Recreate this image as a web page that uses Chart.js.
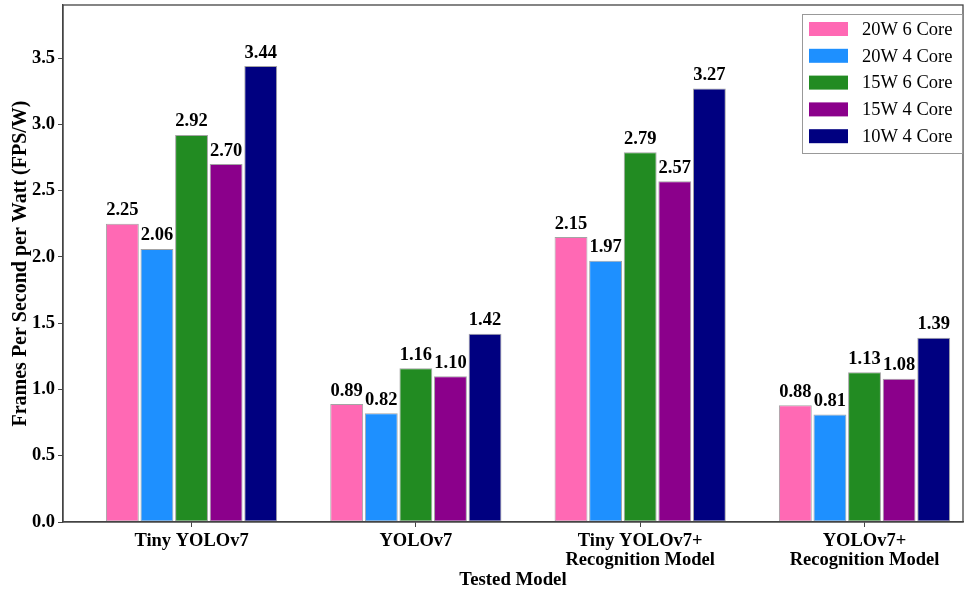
<!DOCTYPE html>
<html lang="en">
<head>
    <meta charset="UTF-8">
    <title>Frames Per Second per Watt</title>
    <script src="https://cdn.jsdelivr.net/npm/chart.js"></script>
    <style>
        body {
            margin: 0;
            padding: 0;
            background: #fff;
        }
        #chart-box {
            width: 965px;
            height: 589px;
        }
    </style>
</head>
<body>
    <div id="chart-box"><canvas id="chart"></canvas></div>

    <script>
        // data
        const models = [
            ["Tiny YOLOv7"],
            ["YOLOv7"],
            ["Tiny YOLOv7+", "Recognition Model"],
            ["YOLOv7+", "Recognition Model"]
        ];
        const seriesNames = ["20W 6 Core", "20W 4 Core", "15W 6 Core", "15W 4 Core", "10W 4 Core"];
        const seriesColors = ["#ff69b4", "#1e90ff", "#228b22", "#8b008b", "#000080"];
        const w20c6 = [2.25, 0.89, 2.15, 0.88];
        const w20c4 = [2.06, 0.82, 1.97, 0.81];
        const w15c6 = [2.92, 1.16, 2.79, 1.13];
        const w15c4 = [2.70, 1.10, 2.57, 1.08];
        const w10c4 = [3.44, 1.42, 3.27, 1.39];
        const yTicks = [0, 0.5, 1.0, 1.5, 2.0, 2.5, 3.0, 3.5];

        const seriesValues = [w20c6, w20c4, w15c6, w15c4, w10c4];
        const serif = "'Liberation Serif', 'Times New Roman', serif";

        const datasets = seriesNames.map((name, i) => ({
            label: name,
            data: seriesValues[i].map((v, j) => ({ x: j, y: v })),
            backgroundColor: seriesColors[i],
            borderColor: "rgba(90, 90, 90, 0.55)",
            borderWidth: 1,
            borderSkipped: false,
            barPercentage: 0.95,
            categoryPercentage: 0.771
        }));

        // value labels above each bar
        const valueLabels = {
            id: "valueLabels",
            afterDatasetsDraw(chart) {
                const ctx = chart.ctx;
                ctx.save();
                ctx.font = "bold 18.5px " + serif;
                ctx.textAlign = "center";
                ctx.textBaseline = "bottom";
                chart.data.datasets.forEach((ds, i) => {
                    chart.getDatasetMeta(i).data.forEach((bar, j) => {
                        const txt = ds.data[j].y.toFixed(2);
                        const tw = ctx.measureText(txt).width;
                        ctx.fillStyle = "#fff";
                        ctx.fillRect(bar.x - tw / 2 - 1, bar.y - 21, tw + 2, 17);
                        ctx.fillStyle = "#000";
                        ctx.fillText(txt, bar.x, bar.y - 4);
                    });
                });
                ctx.restore();
            }
        };

        // frame and boxed legend
        const frameLegend = {
            id: "frameLegend",
            afterDraw(chart) {
                const ctx = chart.ctx;
                const a = chart.chartArea;
                ctx.save();
                ctx.strokeStyle = "#444";
                ctx.lineWidth = 1.3;
                ctx.strokeRect(a.left, a.top, a.right - a.left, a.bottom - a.top);

                const bx = a.right - 161, by = a.top + 9;
                ctx.fillStyle = "#fff";
                ctx.fillRect(bx, by, 160, 139);
                ctx.strokeStyle = "#999";
                ctx.lineWidth = 1;
                ctx.strokeRect(bx + 0.5, by + 0.5, 160, 139);
                ctx.font = "18.5px " + serif;
                ctx.textBaseline = "middle";
                seriesNames.forEach((name, i) => {
                    const cy = by + 15 + i * 26.8;
                    ctx.fillStyle = seriesColors[i];
                    ctx.fillRect(bx + 7, cy - 7, 39, 14);
                    ctx.fillStyle = "#000";
                    ctx.fillText(name, bx + 60, cy + 1);
                });
                ctx.restore();
            }
        };

        new Chart(document.getElementById("chart"), {
            type: "bar",
            data: { datasets: datasets },
            options: {
                responsive: true,
                maintainAspectRatio: false,
                animation: false,
                layout: { padding: { top: 5, right: 2, left: 0, bottom: 0 } },
                plugins: {
                    legend: { display: false },
                    tooltip: { enabled: false }
                },
                scales: {
                    x: {
                        type: "linear",
                        min: -0.573,
                        max: 3.439,
                        offset: false,
                        afterBuildTicks(scale) {
                            scale.ticks = models.map((m, i) => ({ value: i }));
                        },
                        afterFit(scale) {
                            scale.height = 67;
                            scale.paddingLeft = 0;
                            scale.paddingRight = 0;
                        },
                        grid: {
                            offset: false,
                            drawOnChartArea: false,
                            tickLength: 5,
                            tickColor: "#444",
                            color: "#444"
                        },
                        border: { color: "#444", width: 1.3 },
                        ticks: {
                            color: "#000",
                            padding: 5,
                            maxRotation: 0,
                            autoSkip: false,
                            font: { family: serif, size: 18.5, weight: "bold", lineHeight: 1.0 },
                            callback: (v) => models[v] || ""
                        },
                        title: {
                            display: true,
                            text: "Tested Model",
                            color: "#000",
                            padding: { top: 0, bottom: -1 },
                            font: { family: serif, size: 18.8, weight: "bold", lineHeight: 1.0 }
                        }
                    },
                    y: {
                        min: 0,
                        max: 3.9,
                        afterBuildTicks(scale) {
                            scale.ticks = yTicks.map((v) => ({ value: v }));
                        },
                        afterFit(scale) {
                            scale.width = 63;
                            scale.paddingTop = 0;
                            scale.paddingBottom = 0;
                        },
                        grid: {
                            drawOnChartArea: false,
                            tickLength: 5,
                            tickColor: "#444"
                        },
                        border: { color: "#444", width: 1.3 },
                        ticks: {
                            color: "#000",
                            padding: 3,
                            font: { family: serif, size: 18.5, weight: "bold" },
                            callback: (v) => v.toFixed(1)
                        },
                        title: {
                            display: true,
                            text: "Frames Per Second per Watt (FPS/W)",
                            color: "#000",
                            padding: { top: 11, bottom: 0 },
                            font: { family: serif, size: 20, weight: "bold", lineHeight: 1.0 }
                        }
                    }
                }
            },
            plugins: [valueLabels, frameLegend]
        });
    </script>
</body>
</html>
